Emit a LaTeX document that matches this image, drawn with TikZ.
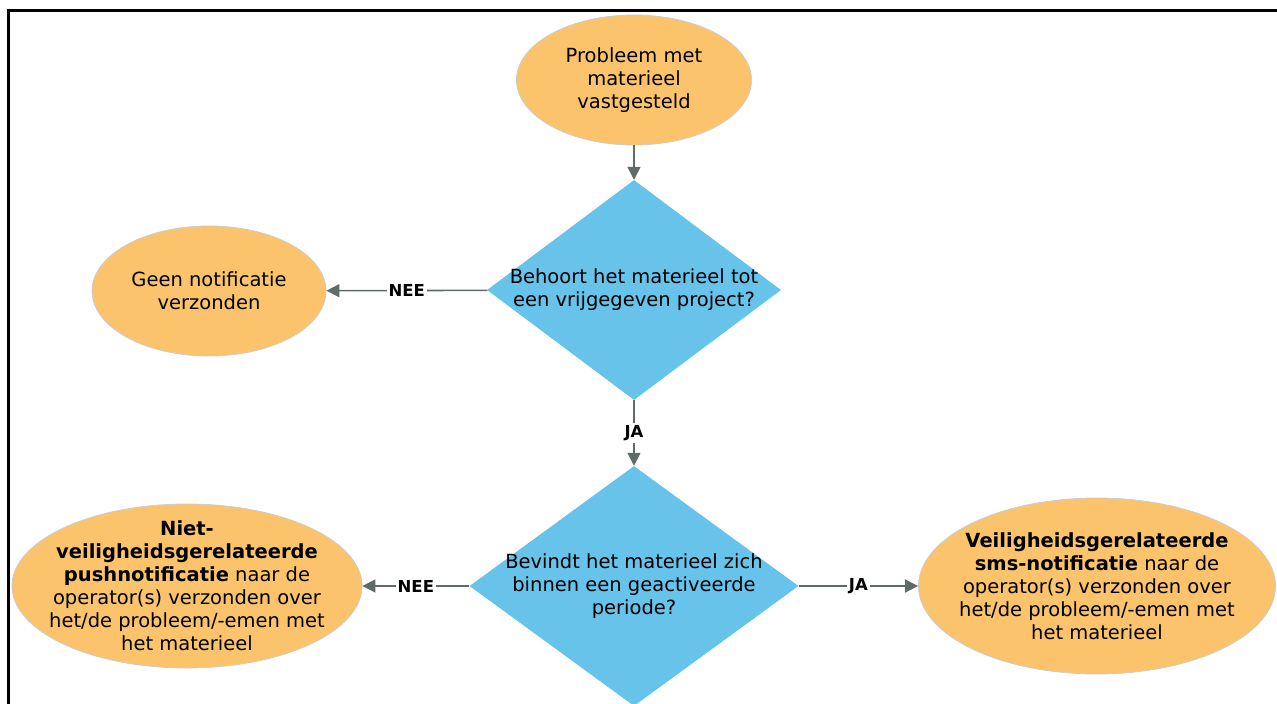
\documentclass[tikz,border=0pt]{standalone}
\usepackage{fontspec}
\setmainfont{DejaVu Sans}
\usepackage{xcolor}
\usetikzlibrary{arrows.meta,positioning,shapes.geometric}

\definecolor{oranjevlak}{HTML}{FBC46C}
\definecolor{blauwvlak}{HTML}{67C3EA}
\definecolor{pijlgrijs}{HTML}{5F6B66}

\begin{document}
\begin{tikzpicture}[x=1pt,y=-1pt,
  font=\fontsize{19.5}{23}\selectfont,
  uitkomst/.style={ellipse,draw=black!20,line width=0.8pt,fill=oranjevlak,align=center,inner sep=-30pt},
  vraag/.style={diamond,fill=blauwvlak,align=center,inner sep=-30pt},
  ar/.style={-{Triangle[length=13pt,width=13pt]},draw=pijlgrijs,line width=1.6pt},
  lbl/.style={fill=white,inner sep=2pt,font=\bfseries\fontsize{16.5}{19}\selectfont}]
\useasboundingbox (0,0) rectangle (1277,704);
\draw[line width=3pt] (1280,10) -- (8,10) -- (8,710);
\node[uitkomst,minimum width=235pt,minimum height=130pt] (start) at (634,80)
  {Probleem met\\ materieel\\ vastgesteld};
\node[vraag,minimum width=294pt,minimum height=220pt] (q1) at (634,290)
  {Behoort het materieel tot\\ een vrijgegeven project?};
\node[uitkomst,minimum width=234pt,minimum height=130pt] (geen) at (209,291)
  {Geen notificatie\\ verzonden};
\node[vraag,minimum width=329pt,minimum height=240pt] (q2) at (634,586)
  {Bevindt het materieel zich\\ binnen een geactiveerde\\ periode?};
\node[uitkomst,minimum width=350pt,minimum height=164pt] (push) at (187,586)
  {\textbf{Niet-}\\ \textbf{veiligheidsgerelateerde}\\ \textbf{pushnotificatie} naar de\\
  operator(s) verzonden over\\ het/de probleem/-emen met\\ het materieel};
\node[uitkomst,minimum width=357pt,minimum height=176pt] (sms) at (1097,586)
  {\textbf{Veiligheidsgerelateerde}\\ \textbf{sms-notificatie} naar de\\
  operator(s) verzonden over\\ het/de probleem/-emen met\\ het materieel};
\draw[ar] (start) -- (q1);
\draw[ar] (q1) -- node[lbl] {NEE} (geen);
\draw[ar] (q1) -- node[lbl] {JA} (q2);
\draw[ar] (q2) -- node[lbl] {NEE} (push);
\draw[ar] (q2) -- node[lbl] {JA} (sms);
\end{tikzpicture}
\end{document}
